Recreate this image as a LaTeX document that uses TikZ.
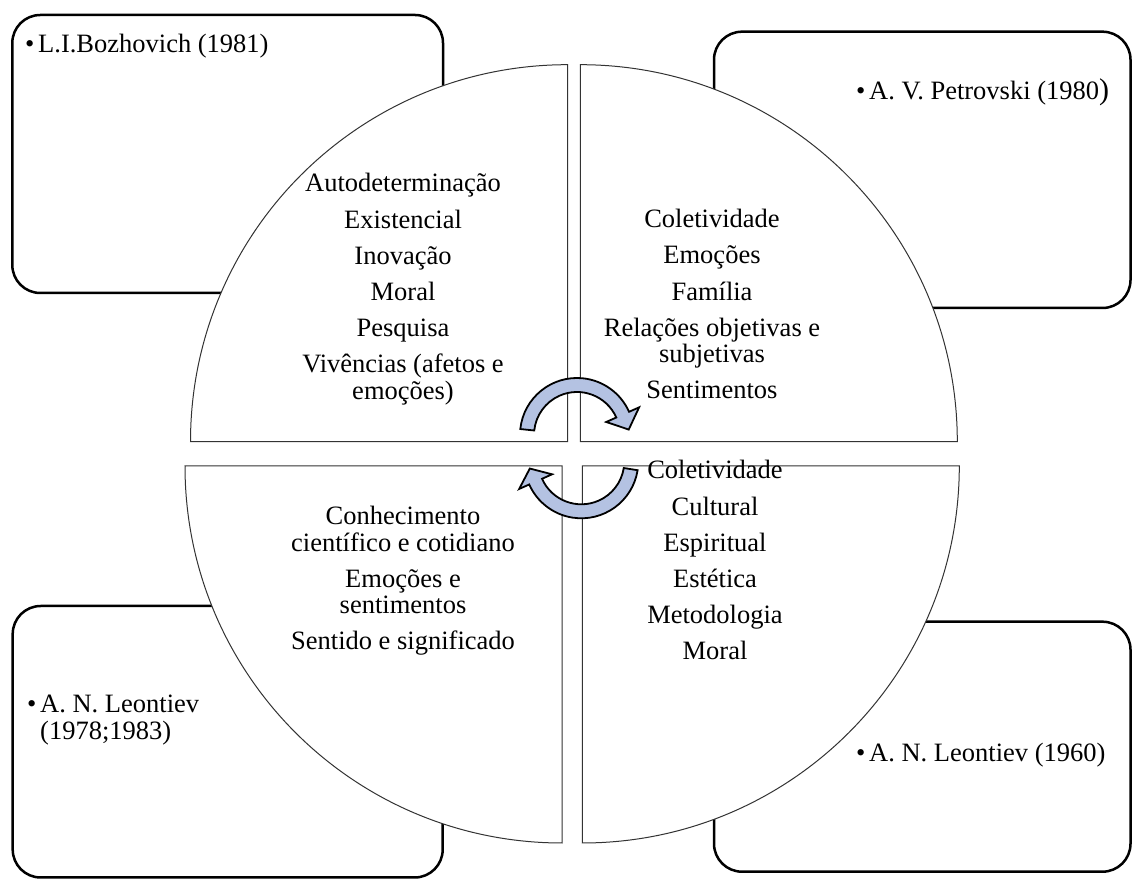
\documentclass[tikz,border=0pt]{standalone}
\usepackage{fontspec}
\setmainfont{Liberation Serif}
\definecolor{arrowblue}{RGB}{180,194,226}
\begin{document}
\begin{tikzpicture}[x=1pt,y=1pt,
  authorbox/.style={draw=black, line width=2.5pt, rounded corners=28pt},
  sector/.style={draw=black!80, line width=1pt, fill=white},
  cyclearrow/.style={draw=black, line width=1.8pt, fill=arrowblue, line join=miter},
  topic/.style={inner sep=0pt, anchor=base, font=\fontsize{26.5}{26}\selectfont},
  author/.style={inner sep=0pt, anchor=base west, font=\fontsize{26.5}{26}\selectfont}]
\useasboundingbox (0,0) rectangle (1132,880);

% author boxes in the four corners
\draw[authorbox] (12.3,587) rectangle (443,865);
\draw[authorbox] (714,572) rectangle (1130.5,848.3);
\draw[authorbox] (12.7,2.5) rectangle (442.7,274);
\draw[authorbox] (714,8.3) rectangle (1130.5,258.3);

% quarter discs of the central circle
\draw[sector] (567.5,438.3) -- (190.5,438.3) arc[start angle=180,end angle=90,radius=377] -- cycle;
\draw[sector] (580.3,438.3) -- (580.3,815.3) arc[start angle=90,end angle=0,radius=377] -- cycle;
\draw[sector] (562,414) -- (185,414) arc[start angle=180,end angle=270,radius=377] -- cycle;
\draw[sector] (582.3,414) -- (959.3,414) arc[start angle=0,end angle=-90,radius=377] -- cycle;

% author labels
\node[author] (bozhovich) at (25,827) {\makebox[13pt][l]{•}L.I.Bozhovich (1981)};
\node[author] (petrovski) at (856,780) {\makebox[13pt][l]{•}A. V. Petrovski (1980{\fontsize{30}{30}\selectfont)}};
\node[author] (leontiev-a) at (27,167) {\begin{tabular}[t]{@{}l@{}}\makebox[13pt][l]{•}A. N. Leontiev\\\hspace*{13pt}(1978;1983)\end{tabular}};
\node[author] (leontiev-b) at (856,118) {\makebox[13pt][l]{•}A. N. Leontiev (1960)};

% themes inside the quarters
\node[topic] (bozhovich-themes) at (403,688) {\begin{tabular}[t]{@{}c@{}}Autodeterminação\\[10pt]Existencial\\[10pt]Inovação\\[10pt]Moral\\[10pt]Pesquisa\\[10pt]Vivências (afetos e\\emoções)\end{tabular}};
\node[topic] (petrovski-themes) at (712,652) {\begin{tabular}[t]{@{}c@{}}Coletividade\\[10pt]Emoções\\[10pt]Família\\[10pt]Relações objetivas e\\subjetivas\\[10pt]Sentimentos\end{tabular}};
\node[topic] (leontiev-a-themes) at (403,355) {\begin{tabular}[t]{@{}c@{}}Conhecimento\\científico e cotidiano\\[10pt]Emoções e\\sentimentos\\[10pt]Sentido e significado\end{tabular}};
\node[topic] (leontiev-b-themes) at (715,401) {\begin{tabular}[t]{@{}c@{}}Coletividade\\[10pt]Cultural\\[10pt]Espiritual\\[10pt]Estética\\[10pt]Metodologia\\[10pt]Moral\end{tabular}};

% circular arrows in the middle
\coordinate (c1) at (577,445);
\coordinate (c2) at (581.3,418.7);
\draw[cyclearrow] ([shift={(c1)}]174:57) arc[start angle=174,end angle=24,radius=57]
  -- ([shift={(c1)}]24:68) -- ([shift={(c1)}]6:52) -- ([shift={(c1)}]24:32)
  -- ([shift={(c1)}]24:43) arc[start angle=24,end angle=174,radius=43] -- cycle;
\draw[cyclearrow] ([shift={(c2)}]-9:57) arc[start angle=-9,end angle=-156,radius=57]
  -- ([shift={(c2)}]-156:68) -- ([shift={(c2)}]-172:52) -- ([shift={(c2)}]-156:32)
  -- ([shift={(c2)}]-156:43) arc[start angle=-156,end angle=-9,radius=43] -- cycle;
\end{tikzpicture}
\end{document}
